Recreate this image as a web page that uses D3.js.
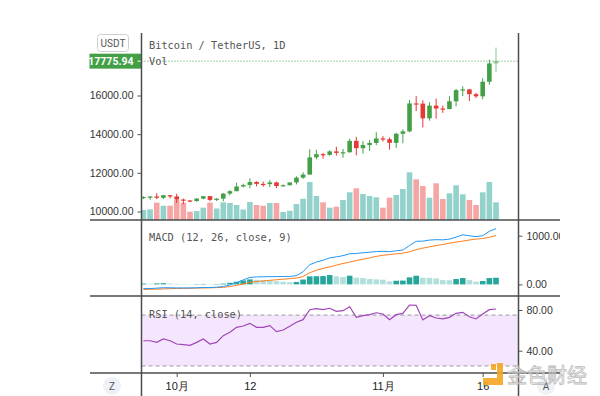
<!DOCTYPE html>
<html>
<head>
<meta charset="utf-8">
<script src="https://cdn.jsdelivr.net/npm/d3@7"></script>
<style>
body{margin:0;background:#fff;}
svg{display:block;font-family:Roboto,"Noto Sans CJK SC",sans-serif;}
.axis text{fill:#333;font-size:10.5px;}
.axis line{stroke:#555;}
.legend{font-family:"DejaVu Sans Mono",monospace;font-size:10.3px;fill:#555;}
</style>
</head>
<body>
<div id="chart"></div>
<script>
const width = 600, height = 396;
const xLeft = 141.5, xRight = 518.5, xEdge = 560;
const mainTop = 33, mainBottom = 220, macdBottom = 296, rsiBottom = 373;

// daily candles, BTC/USDT 26 Sep - 18 Nov 2020
const dates = d3.utcDay.range(new Date(Date.UTC(2020, 8, 26)), new Date(Date.UTC(2020, 10, 19)));
const opens = [10692,10750,10775,10709,10844,10777,10619,10570,10542,10666,10792,10599,10666,10925,11050,11293,11369,11528,11429,11417,11505,11319,11360,11503,11751,11909,12800,12965,12931,13108,13032,13064,13654,13272,13438,13546,13780,13738,13550,14020,14144,15590,15580,14818,15475,15328,15297,15701,16276,16317,16068,15957,16713,17659];
const highs = [10780,10800,10950,10860,10860,10920,10670,10600,10700,10800,10800,10690,10960,11100,11490,11440,11720,11560,11550,11630,11540,11400,11500,11820,12030,13220,13190,13030,13170,13350,13240,13770,13860,13640,13700,14100,13900,13830,14070,14250,15770,15970,15760,15650,15840,15480,15960,16340,16480,16340,16140,16890,17860,18480];
const lows = [10650,10600,10640,10640,10670,10440,10375,10490,10500,10630,10530,10540,10530,10830,11050,11250,11200,11300,11280,11260,11210,11300,11350,11400,11690,11900,12700,12730,12880,12890,12780,13050,12900,12990,13130,13430,13620,13200,13290,13530,14100,15190,14350,14700,14800,15100,15290,15440,15970,15710,15870,15800,16560,17210];
const closes = [10750,10775,10709,10844,10777,10619,10570,10542,10666,10792,10599,10666,10925,11050,11293,11369,11528,11429,11417,11505,11319,11360,11503,11751,11909,12800,12965,12931,13108,13032,13064,13654,13272,13438,13546,13780,13738,13550,14020,14144,15590,15580,14818,15475,15328,15297,15701,16276,16317,16068,15957,16713,17659,17776];
const volumes = [23.0,24.6,39.8,32.9,32.9,46.0,39.8,19.1,20.5,28.3,39.8,26.5,40.7,39.1,34.5,24.2,41.4,34.5,32.7,39.1,39.1,18.4,21.2,36.8,48.8,87.4,55.2,40.7,28.3,30.6,46.0,63.7,72.9,59.8,55.2,52.2,28.3,51.3,57.5,71.3,109.7,93.6,78.2,51.3,84.4,48.3,61.4,79.8,59.1,46.0,34.5,63.7,87.4,40.7];
const lastPrice = 17775.94;

// MACD (12, 26, close, 9)
const macdLine = [-86,-86,-77,-68,-70,-72,-73,-73,-69,-64,-65,-58,-44,-12,35,92,143,153,157,159,160,163,163,180,260,405,458,495,545,565,590,630,635,650,660,675,680,672,690,705,800,885,888,910,918,915,930,970,1018,1000,980,1000,1090,1145];
const signalLine = [-104,-100,-97,-93,-88,-84,-81,-79,-76,-73,-70,-66,-60,-45,-20,10,40,58,72,84,95,108,118,130,160,240,290,330,360,395,430,458,490,518,545,575,598,612,628,642,670,712,745,772,798,820,845,868,889,912,930,942,968,1004];
const macdHist = [18,14,20,25,18,12,8,6,7,9,5,8,16,33,55,82,103,95,85,75,65,55,45,50,100,165,168,171,192,165,151,178,137,130,110,103,96,62,75,78,144,178,137,135,123,89,86,110,130,89,55,69,130,137];

// RSI (14, close)
const rsiValues = [49.8,49.8,48.2,51.5,49.8,46.6,45.9,45.3,48.2,51.5,46.6,48.2,54.8,58.1,63.0,64.3,66.9,63.0,63.0,64.6,58.7,60.3,64.0,67.9,70.5,80.3,81.3,80.3,81.7,78.7,79.3,83.2,72.8,74.4,75.4,77.3,76.1,70.5,75.4,76.7,84.9,84.6,70.2,74.4,72.1,71.2,72.8,76.7,77.7,73.4,71.2,76.1,80.3,81.0];
const rsiBands = [75, 25];

const priceTicks = [10000, 12000, 14000, 16000];
const macdTicks = [0, 1000];
const rsiTicks = [40, 80];
const timeTicks = [new Date(Date.UTC(2020, 9, 1)), new Date(Date.UTC(2020, 9, 12)), new Date(Date.UTC(2020, 10, 1)), new Date(Date.UTC(2020, 10, 16))];

const candles = dates.map((d, i) => ({date: d, o: opens[i], h: highs[i], l: lows[i], c: closes[i], v: volumes[i],
  macd: macdLine[i], signal: signalLine[i], hist: macdHist[i], rsi: rsiValues[i]}));

const upColor = "#43a047", downColor = "#e53935";
const volUp = "#93d1cb", volDown = "#f5a5a3";

const x = d3.scaleUtc()
  .domain([timeTicks[0], timeTicks[3]])
  .range([176.7, 482.7]);
const yPrice = d3.scaleLinear().domain([10000, 16000]).range([211.5, 95.5]);
const yVol = d3.scaleLinear().domain([0, 115]).range([mainBottom, mainBottom - 50]);
const yMacd = d3.scaleLinear().domain([0, 1000]).range([284.4, 235.7]);
const yRsi = d3.scaleLinear().domain([40, 80]).range([350.7, 310]);

const svg = d3.select("#chart").append("svg")
  .attr("width", width)
  .attr("height", height);

const defs = svg.append("defs");
defs.append("clipPath").attr("id", "plot")
  .append("rect").attr("x", xLeft).attr("y", 0).attr("width", xRight - xLeft).attr("height", height);
defs.append("clipPath").attr("id", "rightScale")
  .append("rect").attr("x", xRight).attr("y", 0).attr("width", xEdge - xRight).attr("height", height);

//RSI band (behind everything)
svg.append("rect")
  .attr("x", xLeft)
  .attr("width", xRight - xLeft)
  .attr("y", yRsi(rsiBands[0]))
  .attr("height", yRsi(rsiBands[1]) - yRsi(rsiBands[0]))
  .attr("fill", "#f4e6fc");

svg.append("g").selectAll("line")
  .data(rsiBands)
  .enter()
  .append("line")
  .attr("x1", xLeft).attr("x2", xRight)
  .attr("y1", d => yRsi(d)).attr("y2", d => yRsi(d))
  .attr("stroke", "#9a9a9a")
  .attr("stroke-dasharray", "4,3");

const plot = svg.append("g").attr("clip-path", "url(#plot)");

//Volume
plot.append("g").selectAll("rect")
  .data(candles)
  .enter()
  .append("rect")
  .attr("x", d => x(d.date) - 2.8)
  .attr("width", 5.6)
  .attr("y", d => yVol(d.v))
  .attr("height", d => yVol(0) - yVol(d.v))
  .attr("fill", d => d.c >= d.o ? volUp : volDown);

//Candles
const candle = plot.append("g").selectAll("g")
  .data(candles)
  .enter()
  .append("g")
  .attr("opacity", (d, i) => i === candles.length - 1 ? 0.6 : 1);

candle.append("line")
  .attr("x1", d => x(d.date))
  .attr("x2", d => x(d.date))
  .attr("y1", d => yPrice(d.h))
  .attr("y2", d => yPrice(d.l))
  .attr("stroke", d => d.c >= d.o ? upColor : downColor)
  .attr("stroke-width", 1);

candle.append("rect")
  .attr("x", d => x(d.date) - 2.3)
  .attr("width", 4.6)
  .attr("y", d => yPrice(Math.max(d.o, d.c)))
  .attr("height", d => Math.max(1.2, Math.abs(yPrice(d.o) - yPrice(d.c))))
  .attr("fill", d => d.c >= d.o ? upColor : downColor);

//last price line
svg.append("line")
  .attr("x1", xLeft).attr("x2", xRight)
  .attr("y1", yPrice(lastPrice)).attr("y2", yPrice(lastPrice))
  .attr("stroke", upColor)
  .attr("stroke-dasharray", "1,2");

//MACD histogram + lines
plot.append("g").selectAll("rect")
  .data(candles)
  .enter()
  .append("rect")
  .attr("x", d => x(d.date) - 2.8)
  .attr("width", 5.6)
  .attr("y", d => yMacd(Math.max(0, d.hist)))
  .attr("height", d => Math.abs(yMacd(d.hist) - yMacd(0)))
  .attr("fill", (d, i) => i === 0 || d.hist >= candles[i - 1].hist ? "#26a69a" : "#b2dfdb");

plot.append("path")
  .datum(candles)
  .attr("fill", "none")
  .attr("stroke", "#ff7d1a")
  .attr("stroke-width", 1)
  .attr("d", d3.line().x(d => x(d.date)).y(d => yMacd(d.signal)));

plot.append("path")
  .datum(candles)
  .attr("fill", "none")
  .attr("stroke", "#2196f3")
  .attr("stroke-width", 1)
  .attr("d", d3.line().x(d => x(d.date)).y(d => yMacd(d.macd)));

//RSI line
plot.append("path")
  .datum(candles)
  .attr("fill", "none")
  .attr("stroke", "#a046b8")
  .attr("stroke-width", 1.2)
  .attr("d", d3.line().x(d => x(d.date)).y(d => yRsi(d.rsi)));

//Legends
svg.append("text").attr("class", "legend").attr("x", 149).attr("y", 48.5).text("Bitcoin / TetherUS, 1D");
svg.append("text").attr("class", "legend").attr("x", 149).attr("y", 64.5).text("Vol");
svg.append("text").attr("class", "legend").attr("x", 149).attr("y", 241).text("MACD (12, 26, close, 9)");
svg.append("text").attr("class", "legend").attr("x", 149).attr("y", 317.5).text("RSI (14, close)");

//Axes
svg.append("g")
  .attr("class", "axis")
  .attr("transform", `translate(${xLeft},0)`)
  .call(d3.axisLeft(yPrice).tickValues(priceTicks).tickSize(4).tickPadding(4).tickFormat(d3.format(".2f")));

const rightScale = svg.append("g").attr("clip-path", "url(#rightScale)");

rightScale.append("g")
  .attr("class", "axis")
  .attr("transform", `translate(${xRight},0)`)
  .call(d3.axisRight(yMacd).tickValues(macdTicks).tickSize(4).tickPadding(4).tickFormat(d3.format(".2f")));

rightScale.append("g")
  .attr("class", "axis")
  .attr("transform", `translate(${xRight},0)`)
  .call(d3.axisRight(yRsi).tickValues(rsiTicks).tickSize(4).tickPadding(4).tickFormat(d3.format(".2f")));

const timeAxis = svg.append("g")
  .attr("class", "axis")
  .attr("transform", `translate(0,${rsiBottom})`)
  .call(d3.axisBottom(x).tickValues(timeTicks).tickSize(4).tickPadding(5)
    .tickFormat(d => d.getUTCDate() === 1 ? (d.getUTCMonth() + 1) + "月" : d.getUTCDate()));
timeAxis.selectAll("text").style("font-size", "11px").style("fill", "#222");

svg.selectAll(".axis .domain").remove();

//current price label
const priceTag = svg.append("g").attr("transform", `translate(0,${yPrice(lastPrice)})`);
priceTag.append("rect")
  .attr("x", 89.5).attr("y", -7.5).attr("width", 52).attr("height", 15)
  .attr("fill", upColor);
priceTag.append("line")
  .attr("x1", 137.5).attr("x2", 141.5).attr("stroke", "#fff");
priceTag.append("text")
  .attr("x", 133.5).attr("dy", "0.35em")
  .attr("text-anchor", "end")
  .attr("fill", "#fff")
  .style("font-size", "10.5px")
  .style("font-weight", "bold")
  .text(lastPrice.toFixed(2));

//pane borders
const hLines = [mainBottom, macdBottom, rsiBottom];
svg.append("g").selectAll("line")
  .data(hLines)
  .enter()
  .append("line")
  .attr("x1", 90).attr("x2", xEdge)
  .attr("y1", d => d).attr("y2", d => d)
  .attr("stroke", "#4d4d4d")
  .attr("stroke-width", 1.5);

svg.append("g").selectAll("line")
  .data([xLeft, xRight])
  .enter()
  .append("line")
  .attr("x1", d => d).attr("x2", d => d)
  .attr("y1", mainTop).attr("y2", height)
  .attr("stroke", "#4d4d4d")
  .attr("stroke-width", 1.5);

//USDT button
svg.append("rect")
  .attr("x", 97.5).attr("y", 34.5).attr("width", 31).attr("height", 17).attr("rx", 3)
  .attr("fill", "#fff").attr("stroke", "#cfcfcf");
svg.append("text")
  .attr("x", 113).attr("y", 43).attr("dy", "0.35em")
  .attr("text-anchor", "middle")
  .attr("fill", "#555")
  .style("font-size", "10px")
  .text("USDT");

//Z / A buttons
const btns = svg.append("g").selectAll("g")
  .data([{x: 112, t: "Z"}, {x: 546, t: "A"}])
  .enter()
  .append("g")
  .attr("transform", d => `translate(${d.x},386)`);
btns.append("circle").attr("r", 9).attr("fill", "#eef1f6");
btns.append("text")
  .attr("dy", "0.35em")
  .attr("text-anchor", "middle")
  .attr("fill", "#555")
  .style("font-size", "10px")
  .text(d => d.t);

//watermark
const wm = svg.append("g").attr("opacity", 0.9);
wm.append("rect").attr("x", 491).attr("y", 364).attr("width", 5).attr("height", 6).attr("fill", "#f5a623");
wm.append("rect").attr("x", 497).attr("y", 363).attr("width", 6).attr("height", 22).attr("fill", "#f5a623");
wm.append("rect").attr("x", 483).attr("y", 378).attr("width", 20).attr("height", 7).attr("fill", "#f5a623");
wm.append("text")
  .attr("x", 507).attr("y", 383)
  .attr("fill", "#fff")
  .attr("fill-opacity", 0.6)
  .attr("stroke", "#b5b5b5")
  .attr("stroke-width", 0.8)
  .style("font-family", "'Noto Sans CJK SC', sans-serif")
  .style("font-size", "20px")
  .text("金色财经");
</script>
</body>
</html>
